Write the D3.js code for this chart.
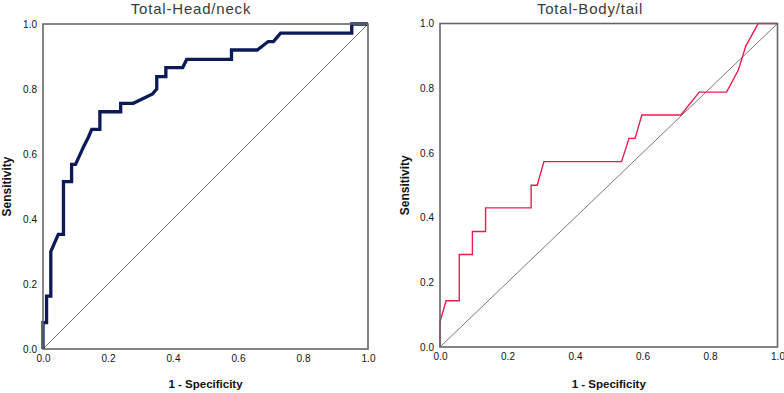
<!DOCTYPE html>
<html>
<head>
<meta charset="utf-8">
<script src="https://cdn.jsdelivr.net/npm/d3@7"></script>
<style>
  body { margin: 0; background: #fff; }
  .tick text { font-family: "Liberation Sans", Arial, sans-serif; font-size: 10px; fill: #111; }
</style>
</head>
<body>
<div id="chart"></div>
<script>
// ROC points (1 - specificity, sensitivity)
const headFpr = [0, 0, 0.011, 0.011, 0.024, 0.024, 0.047, 0.063, 0.063, 0.088, 0.088, 0.10, 0.126, 0.139, 0.15, 0.175, 0.175, 0.239, 0.239, 0.278, 0.337, 0.35, 0.35, 0.378, 0.378, 0.43, 0.442, 0.58, 0.58, 0.659, 0.693, 0.709, 0.731, 0.95, 0.95, 1.0];
const headTpr = [0, 0.081, 0.081, 0.163, 0.163, 0.30, 0.353, 0.353, 0.515, 0.515, 0.568, 0.568, 0.625, 0.65, 0.676, 0.676, 0.73, 0.73, 0.756, 0.756, 0.785, 0.80, 0.838, 0.838, 0.866, 0.866, 0.891, 0.891, 0.92, 0.92, 0.946, 0.946, 0.972, 0.972, 1.0, 1.0];

const bodyFpr = [0, 0, 0.018, 0.057, 0.057, 0.096, 0.096, 0.135, 0.135, 0.27, 0.27, 0.288, 0.308, 0.538, 0.56, 0.578, 0.598, 0.714, 0.768, 0.849, 0.884, 0.906, 0.943, 1.0];
const bodyTpr = [0, 0.078, 0.143, 0.143, 0.286, 0.286, 0.357, 0.357, 0.43, 0.43, 0.50, 0.50, 0.573, 0.573, 0.645, 0.645, 0.717, 0.717, 0.788, 0.788, 0.856, 0.93, 1.0, 1.0];

const ticks = [0, 0.2, 0.4, 0.6, 0.8, 1.0];

const W = 784, H = 393;
const svg = d3.select("#chart").append("svg")
    .attr("width", W).attr("height", H);

const panels = [
  {title: "Total-Head/neck", fpr: headFpr, tpr: headTpr, x0: 43, x1: 368, y0: 349, y1: 24, titleX: 191, yLabX: 11, color: "#0c1a57", lw: 3.3},
  {title: "Total-Body/tail", fpr: bodyFpr, tpr: bodyTpr, x0: 440, x1: 777.5, y0: 347, y1: 23.5, titleX: 590, yLabX: 409, color: "#ec1c4c", lw: 1.4}
];

panels.forEach(p => {
  const x = d3.scaleLinear().domain([0, 1]).range([p.x0, p.x1]);
  const y = d3.scaleLinear().domain([0, 1]).range([p.y0, p.y1]);
  const g = svg.append("g");

  // axes (labels only, frame drawn below)
  g.append("g")
    .attr("transform", `translate(0,${p.y0})`)
    .call(d3.axisBottom(x).tickValues(ticks).tickFormat(d3.format(".1f")).tickSize(0).tickPadding(6))
    .call(a => a.select(".domain").remove());
  g.append("g")
    .attr("transform", `translate(${p.x0},0)`)
    .call(d3.axisLeft(y).tickValues(ticks).tickFormat(d3.format(".1f")).tickSize(0).tickPadding(6))
    .call(a => a.select(".domain").remove());

  // diagonal reference
  g.append("line")
    .attr("x1", x(0)).attr("y1", y(0))
    .attr("x2", x(1)).attr("y2", y(1))
    .attr("stroke", "#555").attr("stroke-width", 0.8);

  const line = d3.line()
    .x((d, i) => x(p.fpr[i]))
    .y(d => y(d));

  g.append("path")
    .datum(p.tpr)
    .attr("d", line)
    .attr("fill", "none")
    .attr("stroke", p.color)
    .attr("stroke-width", p.lw)
    .attr("stroke-linejoin", "miter");

  // frame
  g.append("rect")
    .attr("x", x(0)).attr("y", y(1))
    .attr("width", x(1) - x(0)).attr("height", y(0) - y(1))
    .attr("fill", "none").attr("stroke", "#666").attr("stroke-width", 1.6);

  g.append("text")
    .attr("x", p.titleX).attr("y", 14)
    .attr("text-anchor", "middle")
    .style("font-family", "'Liberation Sans', Arial, sans-serif")
    .style("font-size", "15px")
    .style("letter-spacing", "0.8px")
    .style("fill", "#3a3a3a")
    .text(p.title);

  g.append("text")
    .attr("x", (p.x0 + p.x1) / 2).attr("y", 388)
    .attr("text-anchor", "middle")
    .style("font-family", "'Liberation Sans', Arial, sans-serif")
    .style("font-size", "11.5px")
    .style("font-weight", "bold")
    .style("fill", "#111")
    .text("1 - Specificity");

  g.append("text")
    .attr("transform", `translate(${p.yLabX},${(p.y0 + p.y1) / 2}) rotate(-90)`)
    .attr("text-anchor", "middle")
    .style("font-family", "'Liberation Sans', Arial, sans-serif")
    .style("font-size", "12px")
    .style("font-weight", "bold")
    .style("fill", "#111")
    .text("Sensitivity");
});
</script>
</body>
</html>
